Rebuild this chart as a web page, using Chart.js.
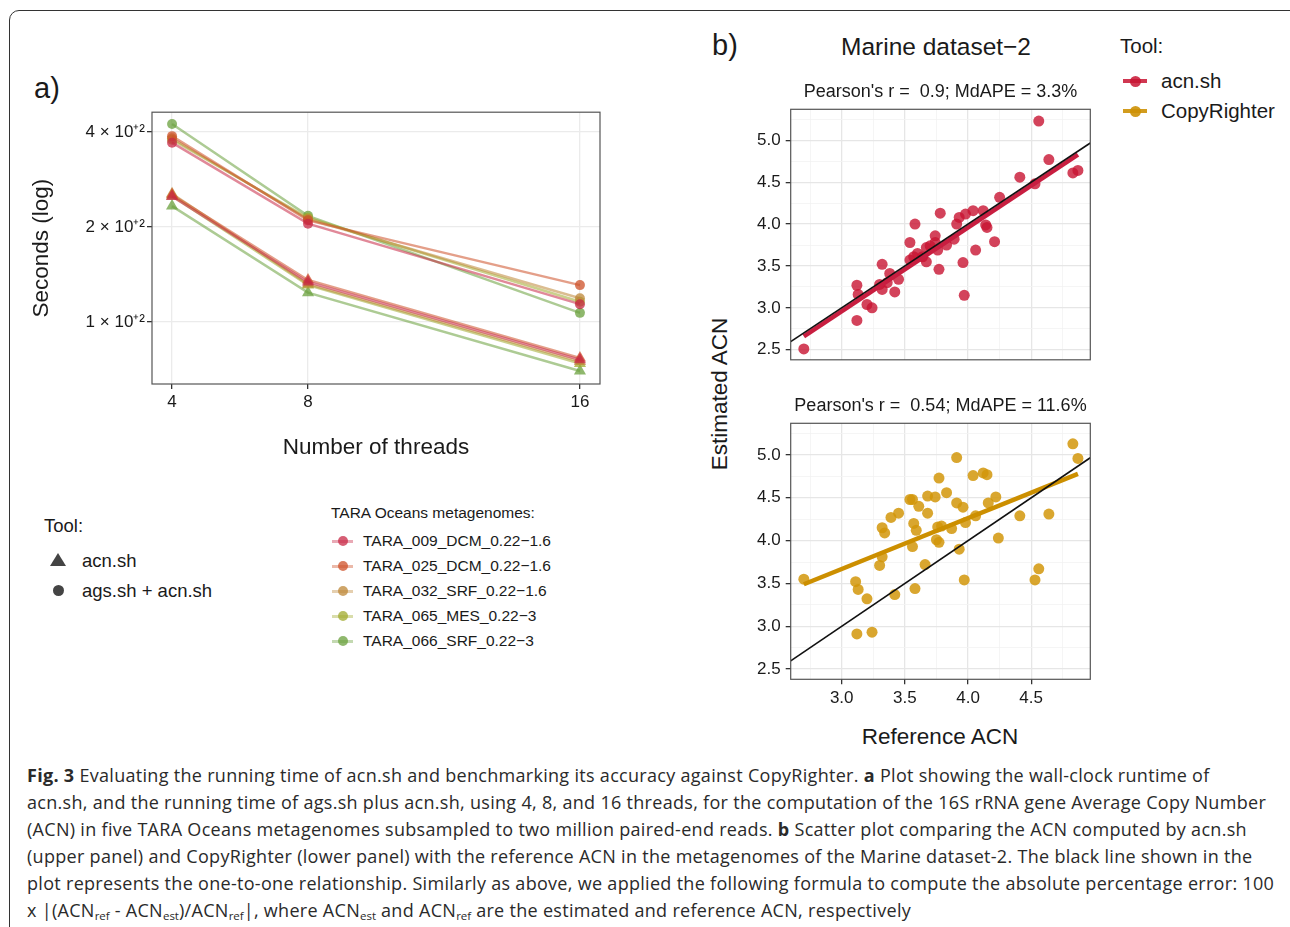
<!DOCTYPE html>
<html>
<head>
<meta charset="utf-8">
<title>Fig. 3 acn.sh running time and ACN accuracy</title>
<script src="https://cdn.jsdelivr.net/npm/chart.js"></script>
<style>
  body { margin: 0; background: #fff; font-family: "Liberation Sans", Arial, sans-serif; color: #1a1a1a; }
  .page { position: relative; width: 1290px; height: 927px; overflow: hidden; }
  .frame { position: absolute; left: 9px; top: 10px; width: 1300px; height: 960px; border: 1.5px solid #333; border-radius: 10px; }
  .t { position: absolute; white-space: nowrap; line-height: 1; transform: translateY(-50%); }
  canvas { position: absolute; }
  .cap { position: absolute; left: 27px; white-space: nowrap; font-family: "Open Sans", Lato, sans-serif; font-size: 18px; letter-spacing: 0.3px; line-height: 1; transform: translateY(-50%); color: #2a2a2a; }
  .cap sub { font-size: 11.5px; vertical-align: -3px; line-height: 0; letter-spacing: 0; }
  .key-line { position: absolute; }
  .key-dot { position: absolute; border-radius: 50%; }
</style>
</head>
<body>
<div class="page">
  <div class="frame"></div>

  <!-- panel a -->
  <div class="t" style="left:34px; top:88px; font-size:29px;">a)</div>
  <canvas id="runtimeChart" width="596" height="370" style="left:24px; top:100px;"></canvas>

  <div class="t" style="left:44px; top:526px; font-size:18.5px;">Tool:</div>
  <div style="position:absolute; left:50px; top:553px; width:0; height:0; border-left:8px solid transparent; border-right:8px solid transparent; border-bottom:13px solid #444;"></div>
  <div class="t" style="left:82px; top:561px; font-size:18.5px;">acn.sh</div>
  <div class="key-dot" style="left:53px; top:585px; width:11px; height:11px; background:#444;"></div>
  <div class="t" style="left:82px; top:591px; font-size:18.5px;">ags.sh + acn.sh</div>

  <div class="t" style="left:331px; top:513px; font-size:15.5px;">TARA Oceans metagenomes:</div>
  <div id="taraKeys"></div>

  <!-- panel b -->
  <div class="t" style="left:712px; top:45px; font-size:29px;">b)</div>
  <div class="t" style="left:936px; top:47px; font-size:24.5px; transform:translate(-50%,-50%);">Marine dataset−2</div>
  <div class="t" style="left:1120px; top:46px; font-size:20.5px;">Tool:</div>
  <div id="toolKeys"></div>

  <canvas id="acnChart" width="401" height="300" style="left:740px; top:75px;"></canvas>
  <canvas id="crChart" width="401" height="325" style="left:740px; top:390px;"></canvas>
  <div class="t" style="left:720px; top:394px; font-size:22.5px; transform:translate(-50%,-50%) rotate(-90deg);">Estimated ACN</div>
  <div class="t" style="left:940px; top:737px; font-size:22.5px; transform:translate(-50%,-50%);">Reference ACN</div>

  <!-- caption -->
  <div class="cap" style="top:775px;"><b>Fig. 3</b> Evaluating the running time of acn.sh and benchmarking its accuracy against CopyRighter. <b>a</b> Plot showing the wall-clock runtime of</div>
  <div class="cap" style="top:802px;">acn.sh, and the running time of ags.sh plus acn.sh, using 4, 8, and 16 threads, for the computation of the 16S rRNA gene Average Copy Number</div>
  <div class="cap" style="top:829px;">(ACN) in five TARA Oceans metagenomes subsampled to two million paired-end reads. <b>b</b> Scatter plot comparing the ACN computed by acn.sh</div>
  <div class="cap" style="top:856px;">(upper panel) and CopyRighter (lower panel) with the reference ACN in the metagenomes of the Marine dataset-2. The black line shown in the</div>
  <div class="cap" style="top:883px;">plot represents the one-to-one relationship. Similarly as above, we applied the following formula to compute the absolute percentage error: 100</div>
  <div class="cap" style="top:910px;">x |(ACN<sub>ref</sub> - ACN<sub>est</sub>)/ACN<sub>ref</sub>|, where ACN<sub>est</sub> and ACN<sub>ref</sub> are the estimated and reference ACN, respectively</div>
</div>

<script>
  // ---------------------------
  // panel a data: seconds per run
  // ---------------------------
  const threads = [4, 8, 16];
  const samples = ['TARA_009_DCM_0.22−1.6', 'TARA_025_DCM_0.22−1.6', 'TARA_032_SRF_0.22−1.6', 'TARA_065_MES_0.22−3', 'TARA_066_SRF_0.22−3'];
  const sampleColors = ['200,40,70', '205,80,40', '190,135,55', '160,170,45', '105,160,60'];

  // acn.sh only (triangles)
  const acn009 = [250, 134, 76];
  const acn025 = [253, 136, 77];
  const acn032 = [255, 132, 75];
  const acn065 = [251, 131, 74];
  const acn066 = [233, 124, 70];
  // ags.sh + acn.sh (circles)
  const ags009 = [370, 205, 114];
  const ags025 = [388, 210, 131];
  const ags032 = [382, 212, 119];
  const ags065 = [378, 214, 116];
  const ags066 = [424, 217, 107];

  const runtimeTicks = [100, 200, 400];
  const runtimeLabels = ['1 × 10⁺²', '2 × 10⁺²', '4 × 10⁺²'];

  // ---------------------------
  // panel b data: reference vs estimated ACN
  // ---------------------------
  const acnRef = [2.70, 3.12, 3.12, 3.13, 3.20, 3.24, 3.32, 3.30, 3.32, 3.36, 3.38, 3.42, 3.45, 3.54, 3.58, 3.54, 3.57, 3.60, 3.64, 3.67, 3.67, 3.70, 3.74, 3.74, 3.76, 3.77, 3.78, 3.83, 3.89, 3.91, 3.93, 3.96, 3.97, 3.98, 4.04, 4.06, 4.12, 4.14, 4.15, 4.21, 4.25, 4.41, 4.53, 4.56, 4.64, 4.83, 4.87];
  const acnEst = [2.51, 2.85, 3.27, 3.16, 3.04, 3.00, 3.52, 3.28, 3.22, 3.30, 3.41, 3.19, 3.34, 3.78, 4.00, 3.57, 3.61, 3.65, 3.61, 3.55, 3.72, 3.74, 3.86, 3.78, 3.69, 3.46, 4.13, 3.75, 3.82, 4.00, 4.08, 3.54, 3.15, 4.12, 4.16, 3.69, 4.16, 3.99, 3.96, 3.79, 4.32, 4.56, 4.48, 5.23, 4.77, 4.61, 4.64];
  const crRef = [2.70, 3.11, 3.13, 3.12, 3.20, 3.24, 3.30, 3.32, 3.32, 3.34, 3.39, 3.42, 3.45, 3.54, 3.56, 3.56, 3.57, 3.59, 3.58, 3.61, 3.66, 3.68, 3.68, 3.74, 3.75, 3.77, 3.76, 3.77, 3.79, 3.83, 3.87, 3.91, 3.91, 3.93, 3.96, 3.97, 3.98, 4.04, 4.06, 4.12, 4.15, 4.16, 4.22, 4.24, 4.41, 4.53, 4.56, 4.64, 4.83, 4.87];
  const crEst = [3.55, 3.52, 3.43, 2.91, 3.32, 2.93, 3.71, 3.81, 4.15, 4.09, 4.27, 3.37, 4.32, 4.48, 4.48, 3.93, 4.20, 4.12, 3.44, 4.40, 3.72, 4.52, 4.32, 4.51, 4.01, 4.73, 4.16, 3.98, 4.17, 4.56, 4.14, 4.97, 4.44, 3.90, 4.39, 3.54, 4.21, 4.76, 4.29, 4.79, 4.77, 4.44, 4.51, 4.03, 4.29, 3.54, 3.67, 4.31, 5.13, 4.96];

  // linear fits: [x, y] at both ends
  const acnFit = [[2.70, 2.66], [4.87, 4.83]];
  const crFit = [[2.70, 3.49], [4.87, 4.78]];

  const refMin = 2.596, refMax = 4.968;
  const estMin = 2.38, estMax = 5.37;
  const refTicks = [2.75, 3.0, 3.25, 3.5, 3.75, 4.0, 4.25, 4.5, 4.75];
  const estTicks = [2.5, 2.75, 3.0, 3.25, 3.5, 3.75, 4.0, 4.25, 4.5, 4.75, 5.0, 5.25];

  Chart.defaults.font.family = '"Liberation Sans", Arial, sans-serif';
  Chart.defaults.color = '#1a1a1a';
  Chart.defaults.animation = false;

  // grey panel outline like ggplot theme_bw
  const panelBorder = {
    id: 'panelBorder',
    afterDraw(chart) {
      const { ctx, chartArea: a } = chart;
      ctx.save();
      ctx.strokeStyle = '#555';
      ctx.lineWidth = 1.2;
      ctx.strokeRect(a.left, a.top, a.right - a.left, a.bottom - a.top);
      ctx.restore();
    }
  };

  // ---------------------------
  // panel a: runtime
  // ---------------------------
  const acnRuns = [acn009, acn025, acn032, acn065, acn066];
  const agsRuns = [ags009, ags025, ags032, ags065, ags066];
  const runtimeSets = [];
  samples.forEach((name, i) => {
    const c = sampleColors[i];
    [[agsRuns[i], 'circle', 5], [acnRuns[i], 'triangle', 7]].forEach(([vals, shape, r]) => {
      runtimeSets.push({
        label: name,
        data: vals.map((v, k) => ({ x: threads[k], y: v })),
        borderColor: 'rgba(' + c + ',0.55)',
        backgroundColor: 'rgba(' + c + ',0.75)',
        pointBackgroundColor: 'rgba(' + c + ',0.75)',
        pointBorderWidth: 0,
        borderWidth: 2.5,
        pointStyle: shape,
        pointRadius: r,
        tension: 0
      });
    });
  });

  new Chart(document.getElementById('runtimeChart'), {
    type: 'line',
    data: { datasets: runtimeSets },
    options: {
      responsive: false,
      layout: { padding: { left: 0, right: 20, top: 10, bottom: 4.5 } },
      plugins: { legend: { display: false }, tooltip: { enabled: false } },
      scales: {
        x: {
          type: 'linear', min: 3.41, max: 16.59,
          afterBuildTicks: ax => { ax.ticks = threads.map(v => ({ value: v })); },
          afterFit: ax => { ax.height = 81.5; },
          grid: { color: '#ebebeb', lineWidth: 1.3, tickLength: 5, tickColor: '#333' },
          border: { display: false },
          ticks: { font: { size: 17 }, padding: 3, maxRotation: 0 },
          title: { display: true, text: 'Number of threads', font: { size: 22.5 } }
        },
        y: {
          type: 'logarithmic', min: 63.7, max: 462,
          afterBuildTicks: ax => { ax.ticks = runtimeTicks.map(v => ({ value: v })); },
          afterFit: ax => { ax.width = 128; },
          grid: { color: '#ebebeb', lineWidth: 1.3, tickLength: 5, tickColor: '#333' },
          border: { display: false },
          ticks: { font: { size: 17 }, padding: 2, callback: v => runtimeLabels[runtimeTicks.indexOf(v)] },
          title: { display: true, text: 'Seconds (log)', font: { size: 22.5 } }
        }
      }
    },
    plugins: [panelBorder]
  });

  // ---------------------------
  // panel b: scatter plots
  // ---------------------------
  const isMajor = v => Math.abs(v * 2 - Math.round(v * 2)) < 1e-6;

  function acnScales(showX, xHeight) {
    const grid = (drawTicks) => ({
      color: c => isMajor(c.tick.value) ? '#e6e6e6' : '#f2f2f2',
      lineWidth: c => isMajor(c.tick.value) ? 1.3 : 0.8,
      drawTicks: drawTicks,
      tickLength: 5,
      tickColor: c => isMajor(c.tick.value) ? '#333' : 'rgba(0,0,0,0)'
    });
    return {
      x: {
        type: 'linear', min: refMin, max: refMax,
        afterBuildTicks: ax => { ax.ticks = refTicks.map(v => ({ value: v })); },
        afterFit: ax => { ax.height = xHeight; },
        grid: grid(showX),
        border: { display: false },
        ticks: { display: showX, autoSkip: false, maxRotation: 0, padding: 4, font: { size: 17 },
                 callback: v => isMajor(v) ? v.toFixed(1) : '' }
      },
      y: {
        type: 'linear', min: estMin, max: estMax,
        afterBuildTicks: ax => { ax.ticks = estTicks.map(v => ({ value: v })); },
        afterFit: ax => { ax.width = 50.7; },
        grid: grid(true),
        border: { display: false },
        ticks: { autoSkip: false, padding: 5, font: { size: 17 },
                 callback: v => isMajor(v) ? v.toFixed(1) : '' }
      },
      // empty right-hand axis, same width as the left one, so the facet title sits over the panel centre
      spacer: {
        type: 'linear', position: 'right', min: 0, max: 1,
        afterFit: ax => { ax.width = 50.7; },
        grid: { display: false }, border: { display: false }, ticks: { display: false }
      }
    };
  }

  function acnDatasets(refs, ests, fit, line, dot) {
    return [
      { data: [{ x: refMin, y: refMin }, { x: refMax, y: refMax }], showLine: true,
        borderColor: '#111', borderWidth: 1.6, pointRadius: 0 },
      { data: fit.map(p => ({ x: p[0], y: p[1] })), showLine: true,
        borderColor: line, borderWidth: 4.5, pointRadius: 0 },
      { data: refs.map((x, i) => ({ x: x, y: ests[i] })),
        backgroundColor: dot, pointRadius: 5.5, pointBorderWidth: 0 }
    ];
  }

  function acnOptions(title, titlePad, showX, xHeight) {
    return {
      responsive: false,
      layout: { padding: 0 },
      plugins: {
        legend: { display: false }, tooltip: { enabled: false },
        title: { display: true, text: title, font: { size: 18, weight: 'normal' }, color: '#1a1a1a', padding: titlePad }
      },
      scales: acnScales(showX, xHeight)
    };
  }

  new Chart(document.getElementById('acnChart'), {
    type: 'scatter',
    data: { datasets: acnDatasets(acnRef, acnEst, acnFit, '#c81e40', 'rgba(200,20,50,0.8)') },
    options: acnOptions("Pearson's r =  0.9; MdAPE = 3.3%", { top: 6, bottom: 6.7 }, false, 10),
    plugins: [panelBorder]
  });

  new Chart(document.getElementById('crChart'), {
    type: 'scatter',
    data: { datasets: acnDatasets(crRef, crEst, crFit, '#cc8f00', 'rgba(210,150,10,0.85)') },
    options: acnOptions("Pearson's r =  0.54; MdAPE = 11.6%", { top: 5.2, bottom: 6.5 }, true, 35.7),
    plugins: [panelBorder]
  });

  // ---------------------------
  // legends (html)
  // ---------------------------
  function addKey(box, x, cy, w, lw, lineCol, dotCol, label, d, gap, fs) {
    const ln = document.createElement('div');
    ln.className = 'key-line';
    ln.style.cssText = 'left:' + x + 'px; top:' + (cy - lw / 2) + 'px; width:' + w + 'px; height:' + lw + 'px; background:' + lineCol;
    const dot = document.createElement('div');
    dot.className = 'key-dot';
    dot.style.cssText = 'left:' + (x + w / 2 - d / 2) + 'px; top:' + (cy - d / 2) + 'px; width:' + d + 'px; height:' + d + 'px; background:' + dotCol;
    const txt = document.createElement('div');
    txt.className = 't';
    txt.style.cssText = 'left:' + (x + w + gap) + 'px; top:' + cy + 'px; font-size:' + fs + 'px';
    txt.textContent = label;
    box.append(ln, dot, txt);
  }

  const taraBox = document.getElementById('taraKeys');
  samples.forEach((name, i) => {
    addKey(taraBox, 332, 541 + i * 25, 21, 3, 'rgba(' + sampleColors[i] + ',0.4)', 'rgba(' + sampleColors[i] + ',0.75)', name, 10, 10, 15.5);
  });

  const toolBox = document.getElementById('toolKeys');
  addKey(toolBox, 1123, 81, 24, 4.5, 'rgba(200,20,50,0.85)', 'rgba(200,20,50,0.85)', 'acn.sh', 11, 14, 20.5);
  addKey(toolBox, 1123, 111, 24, 4.5, 'rgba(205,145,5,0.9)', 'rgba(205,145,5,0.9)', 'CopyRighter', 11, 14, 20.5);
</script>
</body>
</html>
